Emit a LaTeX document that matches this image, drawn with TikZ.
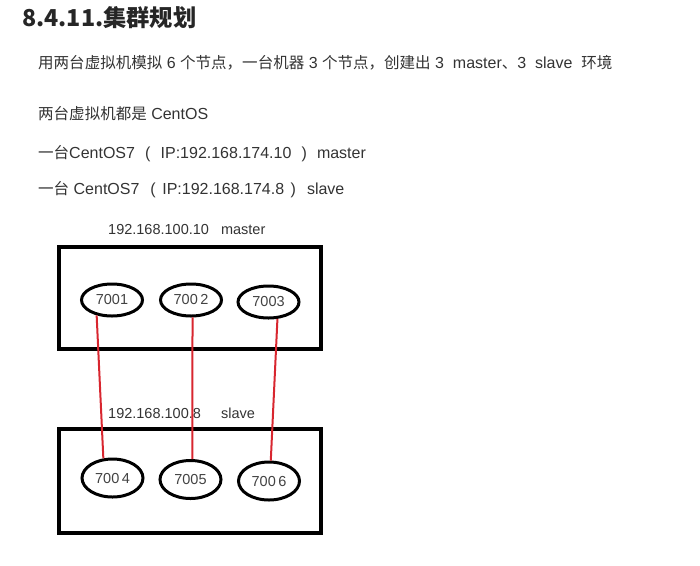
\documentclass[tikz,border=0pt]{standalone}
\usepackage{fontspec}
\usepackage{tikz}
\usetikzlibrary{shapes.geometric}
\setmainfont{Liberation Sans}
\newfontfamily\cjk[Scale=0.97]{Noto Sans CJK SC}
\definecolor{txtgray}{HTML}{333333}
\definecolor{linkred}{HTML}{D8262F}
\newcommand\lpar[1][1.15em]{\makebox[#1]{(}}
\newcommand\rpar[1][1.15em]{\makebox[#1]{)}}

\begin{document}
\begin{tikzpicture}[x=1pt,y=-1pt,
    txt/.style={anchor=west,inner sep=0pt,text=txtgray,font=\fontsize{16pt}{18pt}\selectfont},
    iptxt/.style={anchor=west,inner sep=0pt,text=txtgray,font=\fontsize{14.5pt}{16pt}\selectfont},
    port/.style={ellipse,draw,line width=3pt,minimum width=61pt,minimum height=32pt,inner sep=0pt,
        text=txtgray!80!gray,font=\fontsize{14.5pt}{16pt}\selectfont},
    box/.style={line width=3.5pt},
    link/.style={linkred,line width=2pt}]
    \useasboundingbox (0,0) rectangle (700,565);

    % heading and notes
    \node[anchor=west,inner sep=0pt,text=black!85,font=\fontsize{24pt}{26pt}\cjk\bfseries] (title) at (22,18) {8.4.11.集群规划};
    \node[txt] (note1) at (38,63) {{\cjk 用两台虚拟机模拟} 6 {\cjk 个节点，一台机器} 3 {\cjk 个节点，创建出} 3~ master{\cjk 、}3~ slave~ {\cjk 环境}};
    \node[txt] (note2) at (38,114) {{\cjk 两台虚拟机都是} CentOS};
    \node[txt] (note3) at (38,154) {{\cjk 一台}CentOS7\lpar[1.6em]IP:192.168.174.10\rpar[1.6em]master};
    \node[txt] (note4) at (38,190) {{\cjk 一台} CentOS7 \lpar IP:192.168.174.8\rpar\ slave};

    % master machine
    \node[iptxt] (mlabel) at (108,230) {192.168.100.10~~ master};
    \draw[box] (59,247) rectangle (321,349);
    \node[port] (m1) at (112,300) {7001};
    \node[port] (m2) at (191,300) {700\,2};
    \node[port] (m3) at (268.5,302) {7003};

    % slave machine
    \node[iptxt] (slabel) at (108,413) {192.168.100.8~~~~ slave};
    \draw[box] (59,429) rectangle (321,533);
    \node[port,minimum height=38pt] (s1) at (112.5,478) {700\,4};
    \node[port,minimum height=38pt] (s2) at (190.5,479.5) {7005};
    \node[port,minimum height=38pt] (s3) at (269,481) {700\,6};

    \draw[link] (m1.225) -- (s1.115);
    \draw[link] (m2.275) -- (s2.85);
    \draw[link] (m3.298) -- (s3.85);
\end{tikzpicture}
\end{document}
